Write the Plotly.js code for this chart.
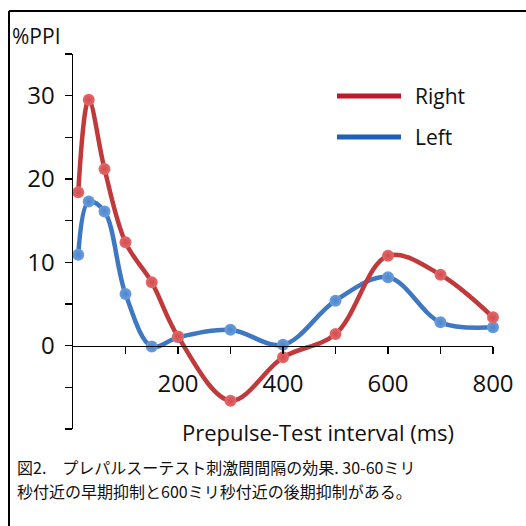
<!DOCTYPE html>
<html><head><meta charset="utf-8">
<script src="https://cdn.plot.ly/plotly-3.0.1.min.js"></script>
<style>html,body{margin:0;padding:0;background:#fff}#chart{width:526px;height:526px}</style>
</head><body><div id="chart"></div>
<script>
// Data
const intervals = [10, 30, 60, 100, 150, 200, 300, 400, 500, 600, 700, 800];
const rightPPI = [18.4, 29.5, 21.2, 12.4, 7.6, 1.1, -6.6, -1.4, 1.4, 10.8, 8.5, 3.4];
const leftPPI  = [10.9, 17.3, 16.1, 6.2, -0.1, 1.0, 1.9, 0.1, 5.4, 8.2, 2.8, 2.2];
const seriesNames = ['Right', 'Left'];
const xTickVals = [100, 200, 300, 400, 500, 600, 700, 800];
const xTickText = ['', '200', '', '400', '', '600', '', '800'];
const yTickVals = [-10, -5, 0, 5, 10, 15, 20, 25, 30, 35];
const yTickText = ['', '', '0', '', '10', '', '20', '', '30', ''];
const yTitle = '%PPI';
const xTitle = 'Prepulse-Test interval (ms)';
const caption1 = '図2.　プレパルスーテスト刺激間間隔の効果. 30-60ミリ';
const caption2 = '秒付近の早期抑制と600ミリ秒付近の後期抑制がある。';

const W = 526, H = 526;
const M = {l: 73, r: 33, t: 54, b: 97};
const pw = W - M.l - M.r, ph = H - M.t - M.b;
const px = x => (x - M.l) / pw;
const py = y => (H - M.b - y) / ph;

const redLine = '#c03a3c', redMarker = '#d44b4d';
const blueLine = '#3f78c2', blueMarker = '#4c86ce';
const latin = 'Open Sans, sans-serif';
const cjk = 'Noto Sans CJK JP, sans-serif';

const traces = [
  {x: intervals, y: leftPPI, name: seriesNames[1], mode: 'lines+markers', type: 'scatter', cliponaxis: false,
   line: {color: blueLine, width: 4.5, shape: 'spline', smoothing: 1},
   marker: {color: '#6a9ddb', size: 12, gradient: {type: 'radial', color: blueMarker}}, showlegend: false},
  {x: intervals, y: rightPPI, name: seriesNames[0], mode: 'lines+markers', type: 'scatter', cliponaxis: false,
   line: {color: redLine, width: 4.5, shape: 'spline', smoothing: 1},
   marker: {color: '#e26a6b', size: 12, gradient: {type: 'radial', color: redMarker}}, showlegend: false}
];

const yRange = [-10, 35];
const layout = {
  width: W, height: H, margin: M,
  paper_bgcolor: '#fff', plot_bgcolor: '#fff',
  showlegend: false,
  font: {family: latin, color: '#111'},
  xaxis: {range: [0, 800], anchor: 'free', position: (0 - yRange[0]) / (yRange[1] - yRange[0]),
    showline: true, linecolor: '#000', linewidth: 1.5, showgrid: false, zeroline: false,
    tickmode: 'array', tickvals: xTickVals, ticktext: xTickText,
    ticks: 'outside', ticklen: 7, tickwidth: 1.5, tickcolor: '#000',
    ticklabelstandoff: 9, tickfont: {family: latin, size: 24, color: '#111'}},
  yaxis: {range: yRange, showline: true, linecolor: '#000', linewidth: 1.5, showgrid: false, zeroline: false,
    tickmode: 'array', tickvals: yTickVals, ticktext: yTickText,
    ticks: 'outside', ticklen: 7, tickwidth: 1.5, tickcolor: '#000',
    ticklabelstandoff: 5, tickfont: {family: latin, size: 24, color: '#111'}},
  shapes: [
    {type: 'line', xref: 'paper', yref: 'paper', x0: px(9), x1: px(W + 5), y0: py(11), y1: py(11), line: {color: '#000', width: 2}},
    {type: 'line', xref: 'paper', yref: 'paper', x0: px(9), x1: px(9), y0: py(11), y1: py(H + 5), line: {color: '#000', width: 2}},
    {type: 'line', xref: 'paper', yref: 'paper', x0: px(337), x1: px(401), y0: py(96), y1: py(96), line: {color: '#c1162c', width: 5}},
    {type: 'line', xref: 'paper', yref: 'paper', x0: px(337), x1: px(401), y0: py(137), y1: py(137), line: {color: '#1f60b2', width: 5}}
  ],
  annotations: [
    {xref: 'paper', yref: 'paper', x: px(413), y: py(96), xanchor: 'left', yanchor: 'middle', showarrow: false,
     text: seriesNames[0], font: {family: latin, size: 21, color: '#111'}},
    {xref: 'paper', yref: 'paper', x: px(413), y: py(137), xanchor: 'left', yanchor: 'middle', showarrow: false,
     text: seriesNames[1], font: {family: latin, size: 21, color: '#111'}},
    {xref: 'paper', yref: 'paper', x: px(10), y: py(36), xanchor: 'left', yanchor: 'middle', showarrow: false,
     text: yTitle, font: {family: latin, size: 21, color: '#111'}},
    {xref: 'paper', yref: 'paper', x: px(318), y: py(432), xanchor: 'center', yanchor: 'middle', showarrow: false,
     text: xTitle, font: {family: latin, size: 22, color: '#111'}},
    {xref: 'paper', yref: 'paper', x: px(15), y: py(467), xanchor: 'left', yanchor: 'middle', showarrow: false,
     text: caption1, font: {family: cjk, size: 16, color: '#111'}},
    {xref: 'paper', yref: 'paper', x: px(15), y: py(491), xanchor: 'left', yanchor: 'middle', showarrow: false,
     text: caption2, font: {family: cjk, size: 16, color: '#111'}}
  ]
};

Plotly.newPlot('chart', traces, layout, {staticPlot: true, displayModeBar: false});
</script>
</body></html>
